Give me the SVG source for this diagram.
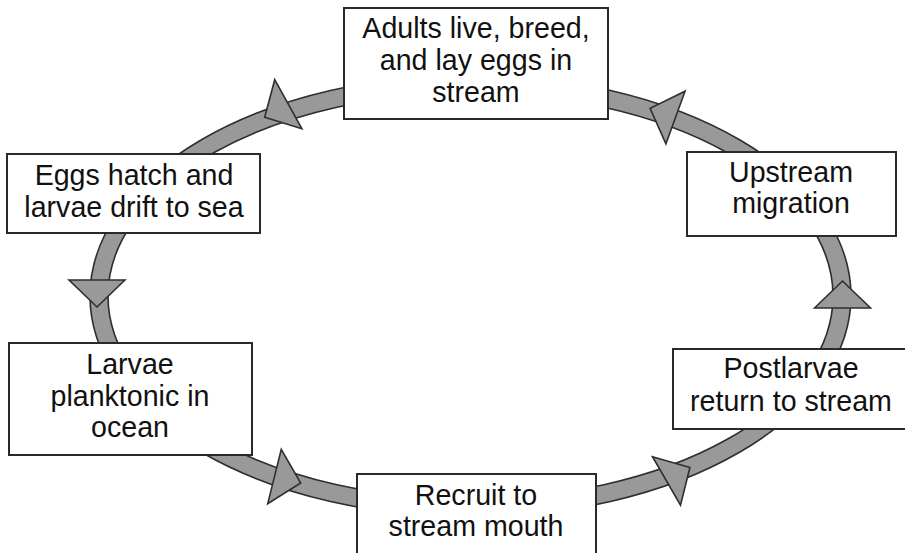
<svg xmlns="http://www.w3.org/2000/svg" xmlns:xlink="http://www.w3.org/1999/xlink" width="905" height="553" viewBox="0 0 905 553">
<style>
.box{fill:#fff;stroke:#2a2a2a;stroke-width:2}
.lbl{font-family:"Liberation Sans",Arial,sans-serif;font-size:28.6px;fill:#111;text-anchor:middle}
.ring{fill:#999;stroke:#2e2e2e;stroke-width:1.6}
.hole{fill:#fff;stroke:#2e2e2e;stroke-width:1.6}
.tri{fill:#999;stroke:#2e2e2e;stroke-width:1.6;stroke-linejoin:miter}
</style>
<defs>
<polygon id="arr" class="tri" points="0,-28 27,0 0,28"/>
</defs>
<rect width="905" height="553" fill="#fff"/>
<g id="connectors">
<ellipse class="ring" cx="470.5" cy="296" rx="380.5" ry="221"/>
<ellipse class="hole" cx="470.5" cy="296" rx="362.5" ry="203"/>
<use xlink:href="#arr" transform="translate(288.3,104.2) rotate(151)"/>
<use xlink:href="#arr" transform="translate(675.5,117.5) rotate(-160)"/>
<use xlink:href="#arr" transform="translate(842.5,308) rotate(-90)"/>
<use xlink:href="#arr" transform="translate(666.5,481) rotate(-30)"/>
<use xlink:href="#arr" transform="translate(274.5,476.5) rotate(14)"/>
<use xlink:href="#arr" transform="translate(97,280) rotate(90)"/>
</g>
<g id="adults">
<rect class="box" x="344" y="8" width="264" height="111"/>
<text class="lbl" x="476" y="38">Adults live, breed,</text>
<text class="lbl" x="476" y="70">and lay eggs in</text>
<text class="lbl" x="476" y="102">stream</text>
</g>
<g id="eggs">
<rect class="box" x="7" y="154" width="253" height="79"/>
<text class="lbl" x="134" y="185">Eggs hatch and</text>
<text class="lbl" x="134" y="217">larvae drift to sea</text>
</g>
<g id="upstream">
<rect class="box" x="687" y="152" width="209" height="84"/>
<text class="lbl" x="791" y="182">Upstream</text>
<text class="lbl" x="791" y="213">migration</text>
</g>
<g id="larvae">
<rect class="box" x="9" y="343" width="243" height="112"/>
<text class="lbl" x="130" y="374">Larvae</text>
<text class="lbl" x="130" y="406">planktonic in</text>
<text class="lbl" x="130" y="437">ocean</text>
</g>
<g id="postlarvae">
<rect class="box" x="673" y="349" width="240" height="80"/>
<text class="lbl" x="791" y="378">Postlarvae</text>
<text class="lbl" x="791" y="411">return to stream</text>
</g>
<g id="recruit">
<rect class="box" x="357" y="474" width="239" height="90"/>
<text class="lbl" x="476" y="505">Recruit to</text>
<text class="lbl" x="476" y="536">stream mouth</text>
</g>
</svg>
